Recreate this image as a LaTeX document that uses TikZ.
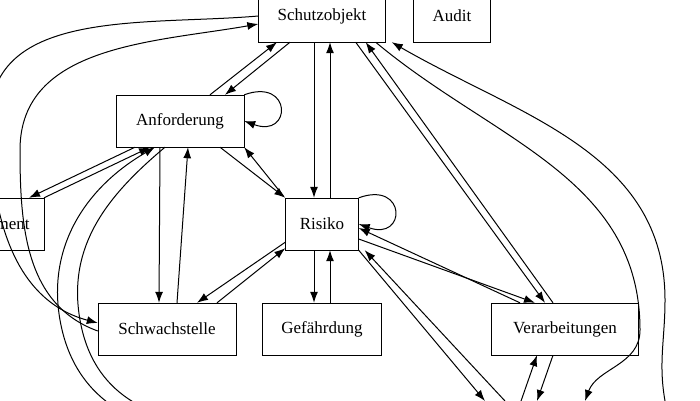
\documentclass[tikz,border=0pt]{standalone}
\usepackage{fontspec}
\setmainfont{Liberation Serif}
\usetikzlibrary{arrows.meta}
\begin{document}
\begin{tikzpicture}[x=1pt,y=-1pt,
  every node/.style={font=\fontsize{17}{19}\selectfont},
  box/.style={draw,rectangle,minimum height=52pt,inner xsep=6pt},
  edge/.style={-{Latex[length=11pt,width=8pt]},line width=1pt}]
\useasboundingbox (0,0) rectangle (700,400);
\clip (0,0) rectangle (700,400);
% nodes
\node[box,minimum width=127pt] (schutz) at (322,16) {Schutzobjekt};
\node[box,minimum width=77pt] (audit) at (452,16) {Audit};
\node[box,minimum width=128pt] (anf) at (180,121) {Anforderung};
\node[box,minimum width=100pt,anchor=east] (doc) at (44,224) {Dokument};
\node[box,minimum width=73pt] (risiko) at (322,224) {Risiko};
\node[box,minimum width=138pt] (schwach) at (167,329) {Schwachstelle};
\node[box,minimum width=119pt] (gef) at (322,329) {Gefährdung};
\node[box,minimum width=147pt] (verarb) at (565,329) {Verarbeitungen};
\node[box,minimum width=180pt,anchor=north] (mass) at (545,401) {Maßnahme};
% Anforderung
\draw[edge] ([xshift=30pt]anf.north) -- ([xshift=-45pt]schutz.south);
\draw[edge] ([xshift=-32pt]schutz.south) -- ([xshift=45pt]anf.north);
\draw[edge] (anf.north east) to[out=20,in=-20,looseness=5] (anf.east);
\draw[edge] ([xshift=-45pt]anf.south) -- ([xshift=-15pt]doc.north east);
\draw[edge] ([xshift=0pt]doc.north east) -- ([xshift=-30pt]anf.south);
\draw[edge] ([xshift=40pt]anf.south) -- (risiko.north west);
\draw[edge] ([xshift=-2pt,yshift=2pt]risiko.north west) -- (anf.south east);
\draw[edge] ([xshift=-20pt]anf.south) -- ([xshift=-8pt]schwach.north);
\draw[edge] ([xshift=10pt]schwach.north) -- ([xshift=8pt]anf.south);
% Risiko
\draw[edge] ([xshift=-8pt]schutz.south) -- ([xshift=-8pt]risiko.north);
\draw[edge] ([xshift=8pt]risiko.north) -- ([xshift=8pt]schutz.south);
\draw[edge] (risiko.north east) to[out=20,in=-20,looseness=5] (risiko.east);
\draw[edge] ([yshift=8pt]risiko.south west) -- ([xshift=30pt]schwach.north);
\draw[edge] ([xshift=50pt]schwach.north) -- ([yshift=2pt]risiko.south west);
\draw[edge] ([xshift=-8pt]risiko.south) -- ([xshift=-8pt]gef.north);
\draw[edge] ([xshift=8pt]gef.north) -- ([xshift=8pt]risiko.south);
\draw[edge] ([yshift=-15pt]risiko.east) -- ([xshift=-30pt]verarb.north);
\draw[edge] ([xshift=-45pt]verarb.north) -- ([yshift=-4pt]risiko.east);
\draw[edge] (risiko.south east) -- ([xshift=-60pt]mass.north);
\draw[edge] ([xshift=-40pt]mass.north) -- ([xshift=6pt]risiko.south east);
% Schutzobjekt
\draw[edge] ([xshift=-30pt]schutz.south east) -- ([xshift=-20pt]verarb.north);
\draw[edge] ([xshift=-12pt]verarb.north) -- ([xshift=-20pt]schutz.south east);
\draw[edge] ([xshift=-10pt]schutz.south east) to[out=-40,in=90] (640,330) to[out=-90,in=70] ([xshift=40pt]mass.north);
\draw[edge] ([xshift=120pt]mass.north) to[out=100,in=-90] (665,300) to[out=90,in=-30] ([xshift=6pt]schutz.south east);
\draw[edge] (schutz.west) to[out=185,in=90] (-10,120) to[out=-90,in=165] ([yshift=6pt]schwach.west);
\draw[edge] ([yshift=-2pt]schwach.west) to[out=160,in=-90] (20,150) to[out=90,in=190] ([yshift=-8pt]schutz.west);
% left curves to Massnahme
\draw[edge] (mass.west) to[out=185,in=-80] (60,320) to[out=100,in=-150] ([xshift=-25pt]anf.south);
\draw[edge] ([xshift=-15pt]anf.south) to[out=-140,in=100] (80,320) to[out=-80,in=180] ([yshift=6pt]mass.west);
% Verarbeitungen
\draw[edge] ([xshift=-12pt]verarb.south) -- ([xshift=-8pt]mass.north);
\draw[edge] ([xshift=-24pt]mass.north) -- ([xshift=-28pt]verarb.south);
\end{tikzpicture}
\end{document}
